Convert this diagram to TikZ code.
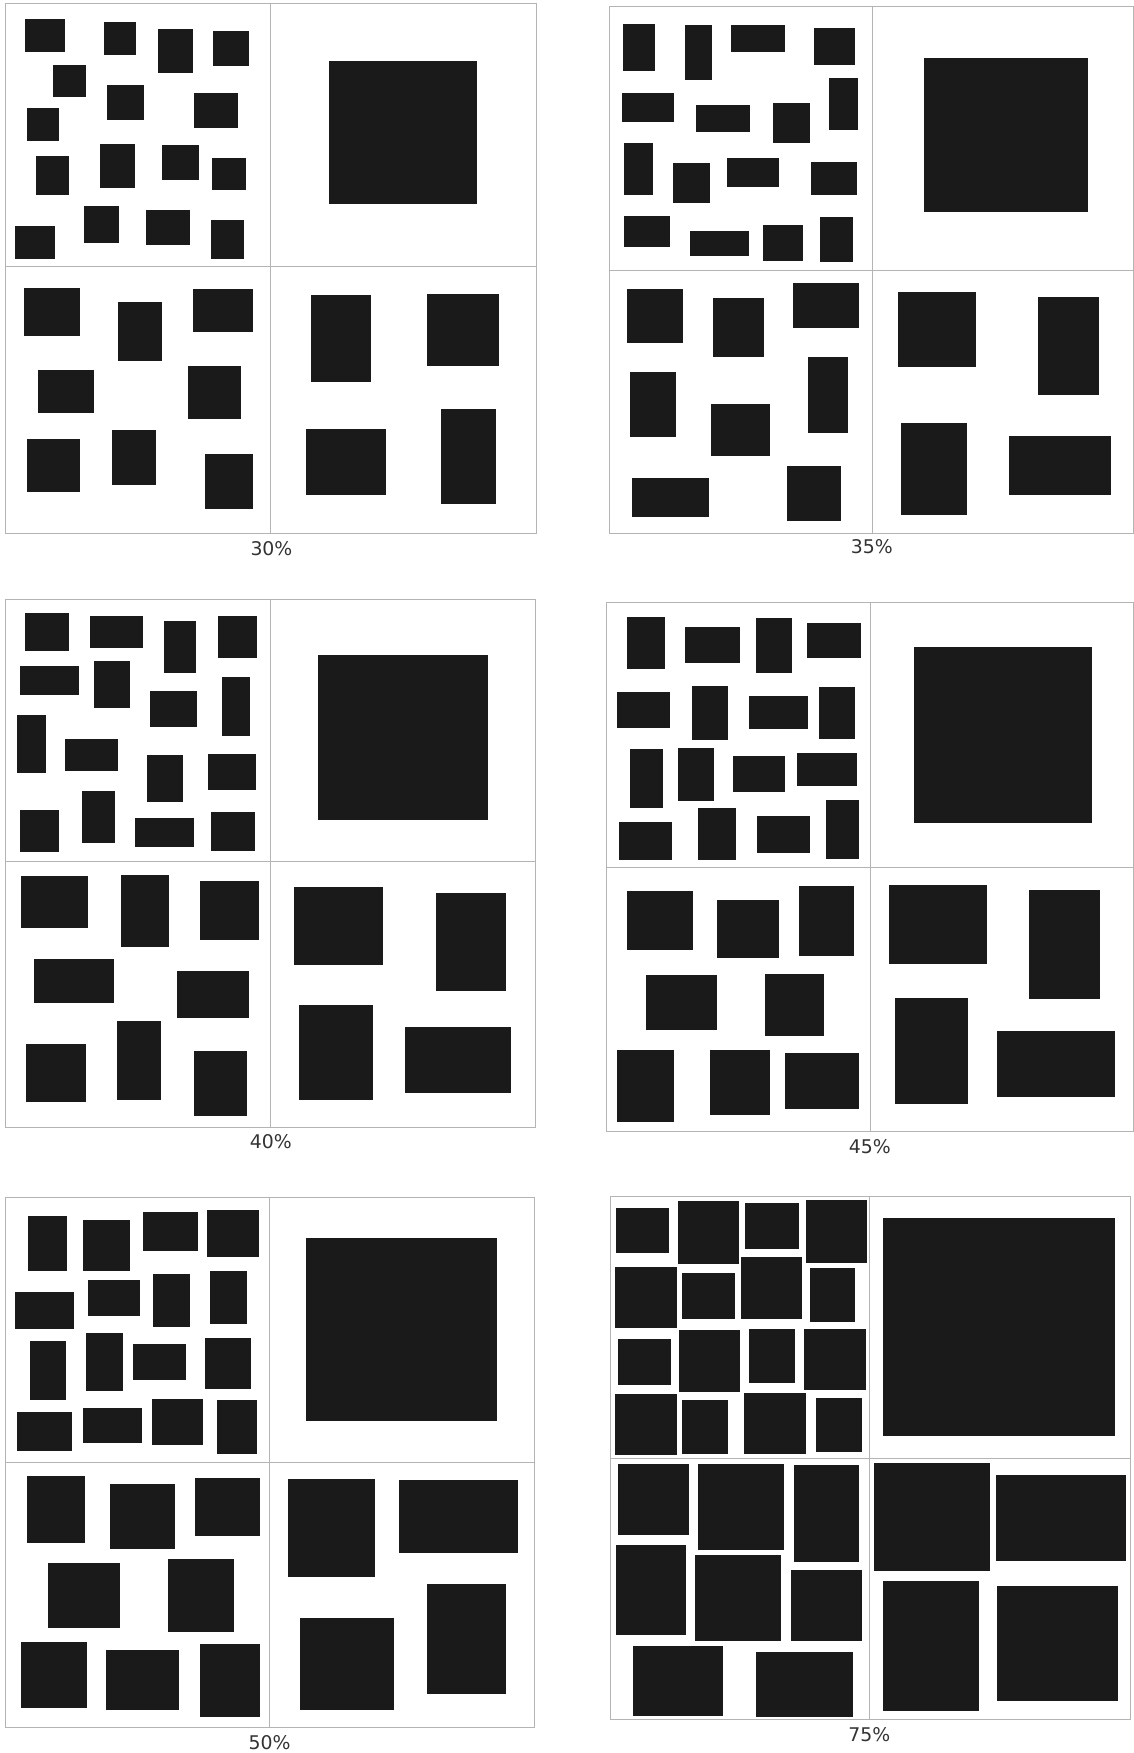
\documentclass[tikz,border=0pt]{standalone}
\usepackage{fontspec}
\setmainfont{DejaVu Sans}
\usepackage{tikz}
\usetikzlibrary{calc}

\definecolor{framegray}{HTML}{B4B4B4}
\definecolor{blockfill}{HTML}{1A1A1A}
\definecolor{labelgray}{HTML}{333333}

\tikzset{
    panel/.style n args={8}{shift={({#1-#5*((#3-#1)/(#7-#5))},{#2-#6*((#4-#2)/(#8-#6))})},
        xscale={(#3-#1)/(#7-#5)}, yscale={(#4-#2)/(#8-#6)}},
    frame/.style={draw=framegray, line width=0.5pt},
    blk/.style={fill=blockfill},
    pct/.style={text=labelgray, font=\fontsize{12}{14}\selectfont, inner sep=0pt}
}

\begin{document}
\begin{tikzpicture}[x=0.25mm, y=-0.25mm]
\useasboundingbox (0,0) rectangle (1014,1568);

% 30%
\begin{scope}[panel={5}{3}{480}{477}{18}{15}{1540}{1497}]
\draw[frame] (18,15) rectangle (1540,1497);
\draw[frame] (778,15) -- (778,1497);
\draw[frame] (18,750) -- (1540,750);
\foreach \xa/\ya/\xb/\yb in {75/60/188/150, 299/68/391/160, 456/88/556/210, 613/91/715/190,
    154/187/248/277, 310/243/414/342, 557/265/685/363, 80/309/172/400,
    105/441/199/550, 288/409/388/530, 467/410/573/509, 610/447/706/537,
    46/638/160/729, 242/583/343/685, 420/593/546/690, 607/621/702/729,
    946/176/1368/577,
    72/812/230/944, 340/851/466/1016, 554/814/726/935, 110/1040/270/1162,
    541/1030/692/1178, 80/1234/232/1381, 322/1208/449/1362, 590/1275/728/1428,
    893/830/1065/1073, 1226/827/1432/1030, 879/1204/1108/1389, 1266/1149/1424/1414}
  \fill[blk] (\xa,\ya) rectangle (\xb,\yb);
\node[pct] (lab30) at (780,1540) {30\%};
\end{scope}

% 35%
\begin{scope}[panel={545}{6}{1014}{477}{30}{20}{1568}{1492}]
\draw[frame] (30,20) rectangle (1566,1492);
\draw[frame] (802,20) -- (802,1492);
\draw[frame] (30,757) -- (1566,757);
\foreach \xa/\ya/\xb/\yb in {69/69/165/199, 251/72/331/226, 387/70/546/147, 630/80/750/183,
    66/261/219/341, 283/295/442/371, 511/288/618/400, 674/218/759/365,
    74/400/159/546, 216/456/324/568, 375/442/529/523, 622/454/756/545,
    73/604/207/693, 266/648/439/718, 481/630/599/731, 648/607/744/734,
    953/163/1435/595,
    83/809/245/961, 333/834/484/999, 569/792/762/918, 92/1042/227/1223,
    613/1000/729/1212, 329/1132/502/1275, 97/1337/322/1446, 550/1305/710/1458,
    876/817/1107/1027, 1287/832/1467/1106, 886/1185/1079/1441, 1203/1221/1503/1385}
  \fill[blk] (\xa,\ya) rectangle (\xb,\yb);
\node[pct] (lab35) at (800,1530) {35\%};
\end{scope}

% 40%
\begin{scope}[panel={5}{536}{479}{1008}{18}{25}{1537}{1480}]
\draw[frame] (18,25) rectangle (1537,1480);
\draw[frame] (778,25) -- (778,1480);
\draw[frame] (18,748) -- (1537,748);
\foreach \xa/\ya/\xb/\yb in {75/62/201/168, 261/70/411/159, 471/85/565/228, 627/70/740/188,
    59/208/228/289, 271/196/376/325, 431/277/567/377, 637/239/719/401,
    51/343/134/504, 189/410/339/499, 422/454/527/584, 599/451/736/550,
    59/605/172/723, 237/553/332/696, 388/628/558/707, 607/611/733/719,
    913/180/1400/633,
    61/789/253/931, 348/785/485/985, 575/802/744/964, 100/1016/328/1137,
    508/1051/717/1180, 76/1251/248/1412, 337/1189/463/1406, 558/1270/710/1450,
    846/818/1099/1033, 1251/835/1452/1105, 859/1145/1071/1405, 1164/1205/1467/1386}
  \fill[blk] (\xa,\ya) rectangle (\xb,\yb);
\node[pct] (lab40) at (778,1520) {40\%};
\end{scope}

% 45%
\begin{scope}[panel={542}{539}{1014}{1012}{22}{33}{1568}{1488}]
\draw[frame] (22,33) rectangle (1566,1488);
\draw[frame] (797,33) -- (797,1488);
\draw[frame] (22,762) -- (1566,762);
\foreach \xa/\ya/\xb/\yb in {83/73/196/217, 253/101/414/199, 463/75/567/227, 611/88/770/186,
    55/278/209/378, 275/262/380/412, 440/290/614/380, 645/264/752/409,
    92/436/189/598, 232/434/339/578, 393/455/548/555, 583/448/757/537,
    61/638/215/742, 292/597/404/741, 465/621/619/723, 667/577/763/739,
    925/155/1446/639,
    83/826/278/988, 347/851/530/1010, 589/812/750/1006, 138/1058/347/1208,
    488/1056/660/1225, 53/1263/220/1462, 328/1265/503/1444, 548/1271/762/1427,
    850/811/1139/1027, 1261/823/1468/1123, 868/1121/1083/1412, 1167/1213/1514/1393}
  \fill[blk] (\xa,\ya) rectangle (\xb,\yb);
\node[pct] (lab45) at (795,1530) {45\%};
\end{scope}

% 50%
\begin{scope}[panel={5}{1071}{478}{1545}{15}{35}{1537}{1495}]
\draw[frame] (15,35) rectangle (1537,1495);
\draw[frame] (775,35) -- (775,1495);
\draw[frame] (15,765) -- (1537,765);
\foreach \xa/\ya/\xb/\yb in {79/87/193/237, 238/98/372/238, 410/76/568/184, 596/70/743/198,
    42/297/212/397, 251/263/403/363, 439/245/545/391, 604/239/709/384,
    86/431/190/593, 247/408/352/569, 383/438/535/538, 589/423/722/563,
    48/627/206/734, 237/614/408/712, 437/590/584/717, 624/592/738/742,
    881/147/1428/651,
    77/804/245/986, 315/825/504/1005, 559/807/748/968, 136/1041/345/1221,
    483/1031/672/1232, 59/1261/248/1442, 305/1282/515/1446, 575/1266/746/1468,
    827/811/1078/1082, 1148/814/1489/1014, 861/1194/1134/1446, 1228/1101/1455/1404}
  \fill[blk] (\xa,\ya) rectangle (\xb,\yb);
\node[pct] (lab50) at (775,1538) {50\%};
\end{scope}

% 75%
\begin{scope}[panel={546}{1070}{1011}{1538}{30}{33}{1560}{1475}]
\draw[frame] (30,33) rectangle (1560,1475);
\draw[frame] (792,33) -- (792,1475);
\draw[frame] (30,755) -- (1560,755);
\foreach \xa/\ya/\xb/\yb in {47/64/203/190, 228/46/407/220, 427/52/584/179, 606/44/784/217,
    44/228/226/397, 240/245/397/371, 415/200/593/371, 618/232/750/380,
    52/427/209/552, 233/401/411/573, 439/400/573/548, 599/398/782/566,
    44/579/226/747, 242/595/376/743, 422/575/605/743, 635/589/769/738,
    832/92/1516/693,
    52/770/262/967, 288/770/540/1007, 571/775/761/1042, 47/995/252/1241,
    278/1022/532/1260, 562/1063/771/1260, 95/1273/360/1466, 458/1288/745/1468,
    807/768/1148/1066, 1165/800/1546/1038, 831/1094/1116/1452, 1169/1107/1525/1425}
  \fill[blk] (\xa,\ya) rectangle (\xb,\yb);
\node[pct] (lab75) at (792,1518) {75\%};
\end{scope}
\end{tikzpicture}
\end{document}
